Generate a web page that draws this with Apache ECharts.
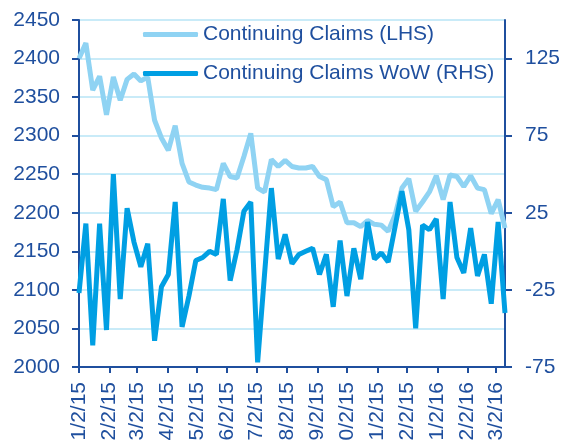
<!DOCTYPE html>
<html>
<head>
<meta charset="utf-8">
<script src="https://cdn.jsdelivr.net/npm/echarts@6/dist/echarts.min.js"></script>
<style>
  html, body { margin: 0; padding: 0; background: #fff; }
  #main { width: 561px; height: 440px; }
</style>
</head>
<body>
<div id="main"></div>
<script type="text/javascript">
// weekly observations, first week 2015-01-02
var firstWeek = '2015-01-02';
var weekCount = 63;

// Continuing Claims (LHS), thousands
var claims = [
  2400, 2420, 2359, 2377, 2327, 2376, 2346, 2373, 2380, 2371,
  2376, 2320, 2297, 2281, 2313, 2264, 2240, 2236, 2233, 2232,
  2230, 2264, 2247, 2245, 2273, 2303, 2232, 2227, 2269, 2260,
  2268, 2260, 2258, 2258, 2260, 2247, 2243, 2208, 2214, 2187,
  2187, 2182, 2190, 2185, 2184, 2176, 2197, 2232, 2244, 2202,
  2214, 2227, 2248, 2217, 2249, 2247, 2234, 2248, 2232, 2230,
  2199, 2217, 2180
];

// Continuing Claims WoW (RHS)
var claimsWoW = [
  -27, 18, -61, 18, -51, 50, -31, 28, 6, -10,
  5, -58, -23, -15, 32, -49, -29, -6, -4, 0,
  -2, 34, -19, 1, 26, 32, -72, -15, 41, -5,
  11, -8, -2, 0, 2, -15, -2, -36, 7, -29,
  2, -18, 19, -5, -1, -7, 16, 39, 14, -50,
  17, 14, 21, -31, 32, -4, -14, 15, -16, -2,
  -34, 19, -40
];

// x axis ticks and labels
var tickDates = ['2015-01-02', '2015-02-02', '2015-03-02', '2015-04-02', '2015-05-02',
  '2015-06-02', '2015-07-02', '2015-08-02', '2015-09-02', '2015-10-02',
  '2015-11-02', '2015-12-02', '2016-01-02', '2016-02-02', '2016-03-02'];
var tickLabels = ['1/2/15', '2/2/15', '3/2/15', '4/2/15', '5/2/15', '6/2/15', '7/2/15',
  '8/2/15', '9/2/15', '10/2/15', '11/2/15', '12/2/15', '1/2/16', '2/2/16', '3/2/16'];
var rightTicks = [-75, -25, 25, 75, 125];

var darkBlue = '#1f4f9e';
var lightLine = '#8fd3f3';
var darkLine = '#009fe3';
var fontName = 'Liberation Sans, Arial, sans-serif';

var dayMs = 24 * 3600 * 1000;
var start = +echarts.number.parseDate(firstWeek);
var weeks = [];
for (var k = 0; k < weekCount; k++) {
    weeks.push(start + k * 7 * dayMs);
}
var tickTimes = tickDates.map(function (d) { return +echarts.number.parseDate(d); });

function pairUp(vals) {
    return vals.map(function (v, i) { return [weeks[i], v]; });
}

var myChart = echarts.init(document.getElementById('main'));
var option = {
    animation: false,
    backgroundColor: '#fff',
    textStyle: { fontFamily: fontName },
    grid: { left: 79, right: 56, top: 20, bottom: 73, containLabel: false, outerBoundsMode: 'none' },
    legend: {
        orient: 'vertical',
        left: 143,
        top: 21,
        padding: 0,
        itemWidth: 55,
        itemHeight: 5,
        itemGap: 12,
        textStyle: { color: darkBlue, fontSize: 21, fontFamily: fontName, lineHeight: 27 },
        data: [
            { name: 'Continuing Claims (LHS)', icon: 'roundRect' },
            { name: 'Continuing Claims WoW (RHS)', icon: 'roundRect' }
        ]
    },
    xAxis: {
        type: 'value',
        min: weeks[0],
        max: weeks[weeks.length - 1],
        axisLine: { onZero: false, lineStyle: { color: darkBlue, width: 2 } },
        axisTick: { show: true, length: 6, lineStyle: { color: darkBlue, width: 2 }, customValues: tickTimes },
        splitLine: { show: false },
        axisLabel: {
            customValues: tickTimes,
            rotate: 90,
            margin: 15,
            color: darkBlue,
            fontSize: 21,
            fontFamily: fontName,
            hideOverlap: false,
            formatter: function (val) {
                var idx = tickTimes.indexOf(val);
                return idx >= 0 ? tickLabels[idx] : '';
            }
        }
    },
    yAxis: [{
        type: 'value',
        min: 2000,
        max: 2450,
        interval: 50,
        axisLine: { show: true, lineStyle: { color: darkBlue, width: 2 } },
        axisTick: { show: true, length: 7, lineStyle: { color: darkBlue, width: 2 } },
        axisLabel: { color: darkBlue, fontSize: 21, fontFamily: fontName, margin: 19,
            formatter: function (v) { return String(v); } },
        splitLine: { show: true, lineStyle: { color: '#c9ebf8', width: 2 } }
    }, {
        type: 'value',
        position: 'right',
        min: -75,
        max: 150,
        interval: 25,
        axisLine: { show: true, lineStyle: { color: darkBlue, width: 2 } },
        axisTick: { show: true, length: 7, lineStyle: { color: darkBlue, width: 2 }, customValues: rightTicks },
        axisLabel: { color: darkBlue, fontSize: 21, fontFamily: fontName, margin: 20, customValues: rightTicks },
        splitLine: { show: false }
    }],
    series: [{
        name: 'Continuing Claims (LHS)',
        type: 'line',
        yAxisIndex: 0,
        symbol: 'none',
        color: lightLine,
        itemStyle: { color: lightLine },
        lineStyle: { width: 5, color: lightLine },
        data: pairUp(claims)
    }, {
        name: 'Continuing Claims WoW (RHS)',
        type: 'line',
        yAxisIndex: 1,
        symbol: 'none',
        color: darkLine,
        itemStyle: { color: darkLine },
        lineStyle: { width: 5, color: darkLine },
        data: pairUp(claimsWoW)
    }]
};
myChart.setOption(option);
</script>
</body>
</html>
